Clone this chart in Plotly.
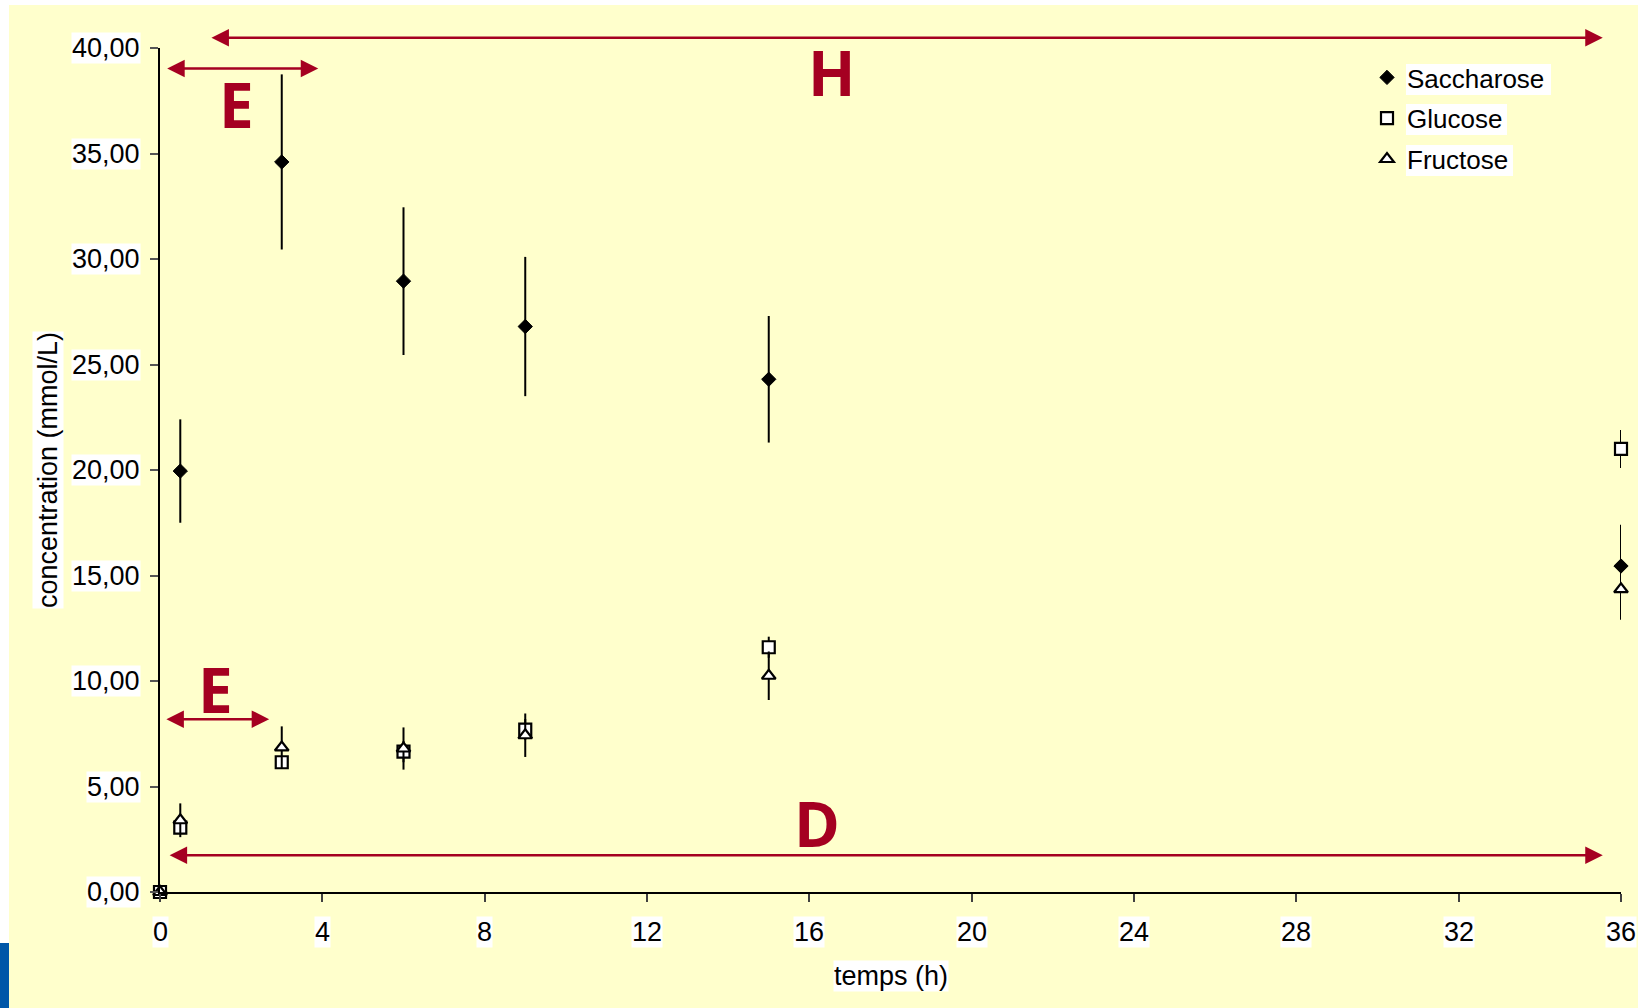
import plotly.graph_objects as go

# ---------------- data ----------------
time_sac = [0, 0.5, 3, 6, 9, 15, 36]
saccharose = [0, 19.95, 34.6, 28.95, 26.8, 24.3, 15.45]
saccharose_err = [0, 2.45, 4.15, 3.5, 3.3, 3.0, 1.95]

time_glu = [0, 0.5, 3, 6, 9, 15, 36]
glucose = [0, 3.05, 6.15, 6.65, 7.7, 11.6, 21.0]
glucose_err = [0, 0.3, 0.3, 0.5, 0.5, 0.5, 0.9]

time_fru = [0, 0.5, 3, 6, 9, 15, 36]
fructose = [0, 3.4, 6.85, 6.8, 7.43, 10.25, 14.35]
fructose_err = [0, 0.8, 1.0, 1.0, 1.03, 1.15, 1.45]

x_ticks = [0, 4, 8, 12, 16, 20, 24, 28, 32, 36]
y_ticks = [0, 5, 10, 15, 20, 25, 30, 35, 40]

# phase arrows: (label, x_start, x_end, y, label_x, label_y)
phases = [
    ("H", 1.23, 35.55, 40.48, 16.54, 38.85),
    ("E", 0.14, 3.9, 39.03, 1.89, 37.35),
    ("E", 0.12, 2.69, 8.19, 1.36, 9.63),
    ("D", 0.2, 35.55, 1.74, 16.19, 3.28),
]

RED = "#A50021"
FONT = "Liberation Sans, Arial, sans-serif"

W, H = 1638, 1008
L, R, T, B = 160, 17, 48, 116
pw, ph = W - L - R, H - T - B
Y_MAX = 40


def px_x(p):
    return (p - L) / pw


def px_y(p):
    return (H - B - p) / ph


fig = go.Figure()

err_style = dict(type="data", symmetric=True, color="black", thickness=2, width=0)

fig.add_trace(go.Scatter(
    x=time_sac, y=saccharose, mode="markers", name="Saccharose",
    marker=dict(symbol="diamond", size=11, color="black", line=dict(color="black", width=1)),
    error_y=dict(array=saccharose_err, **err_style), cliponaxis=False,
    legendgroup="a",
))
fig.add_trace(go.Scatter(
    x=time_glu, y=glucose, mode="markers", name="Glucose",
    marker=dict(symbol="square", size=12, color="white", line=dict(color="black", width=2.2)),
    error_y=dict(array=glucose_err, **err_style), cliponaxis=False,
    legendgroup="b",
))
fig.add_trace(go.Scatter(
    x=time_fru, y=fructose, mode="markers", name="Fructose",
    marker=dict(symbol="triangle-up", size=12, color="white", line=dict(color="black", width=2.2)),
    error_y=dict(array=fructose_err, **err_style), cliponaxis=False,
    legendgroup="c",
))

annotations = []
# tick labels with white boxes
for v in y_ticks:
    annotations.append(dict(
        text=f"{v:.2f}".replace(".", ","), xref="paper", x=0, xanchor="right", xshift=-19,
        yref="y", y=v, yanchor="middle", showarrow=False, bgcolor="white", borderpad=0,
        font=dict(family=FONT, size=27, color="black"),
    ))
for v in x_ticks:
    annotations.append(dict(
        text=str(v), xref="x", x=v, xanchor="center", yref="paper", y=0, yanchor="top",
        yshift=-24, showarrow=False, bgcolor="white", borderpad=0,
        font=dict(family=FONT, size=27, color="black"),
    ))
# axis titles
annotations.append(dict(
    text="temps (h)", xref="paper", x=0.5, xanchor="center", yref="paper", y=0,
    yanchor="top", yshift=-68, showarrow=False, bgcolor="white", borderpad=0,
    font=dict(family=FONT, size=27, color="black"),
))
annotations.append(dict(
    text="concentration (mmol/L)", xref="paper", x=0, xanchor="center", xshift=-112,
    yref="paper", y=0.5, yanchor="middle", textangle=-90, showarrow=False,
    bgcolor="white", borderpad=0, font=dict(family=FONT, size=27, color="black"),
))
# phase arrows and letters
for lab, xs, xe, yv, lx, ly in phases:
    arrow = dict(
        text="", xref="x", x=xe, axref="x", ax=xs,
        showarrow=True, arrowside="end+start", arrowhead=2, startarrowhead=2,
        arrowsize=1.4, startarrowsize=1.4, arrowwidth=2.5, arrowcolor=RED,
        standoff=0, startstandoff=0,
    )
    if yv > Y_MAX:
        # above the plotting area: place relative to the y axis scale via paper fraction
        arrow.update(yref="paper", y=yv / Y_MAX, ayref="pixel", ay=0)
    else:
        arrow.update(yref="y", y=yv, ayref="y", ay=yv)
    annotations.append(arrow)
    annotations.append(dict(
        text=lab, xref="x", yref="y", x=lx, y=ly, showarrow=False,
        font=dict(family="Open Sans, Noto Sans, sans-serif", size=62, color=RED, weight="bold"),
    ))

shapes = [
    # yellow page
    dict(type="rect", xref="paper", yref="paper", x0=px_x(9), x1=px_x(W), y0=px_y(H), y1=px_y(5),
         fillcolor="#FFFFCC", line=dict(width=0), layer="below"),
    # blue corner bar
    dict(type="rect", xref="paper", yref="paper", x0=px_x(0), x1=px_x(9), y0=px_y(H), y1=px_y(943),
         fillcolor="#0057A8", line=dict(width=0), layer="below"),
    # white boxes behind legend text
    dict(type="rect", xref="paper", yref="paper", x0=px_x(1406), x1=px_x(1551), y0=px_y(95), y1=px_y(64),
         fillcolor="white", line=dict(width=0), layer="below"),
    dict(type="rect", xref="paper", yref="paper", x0=px_x(1406), x1=px_x(1507), y0=px_y(135), y1=px_y(104),
         fillcolor="white", line=dict(width=0), layer="below"),
    dict(type="rect", xref="paper", yref="paper", x0=px_x(1406), x1=px_x(1513), y0=px_y(176), y1=px_y(145),
         fillcolor="white", line=dict(width=0), layer="below"),
]

fig.update_layout(
    width=W, height=H,
    margin=dict(l=L, r=R, t=T, b=B, pad=0),
    paper_bgcolor="white", plot_bgcolor="#FFFFCC",
    font=dict(family=FONT, size=26, color="black"),
    showlegend=True,
    legend=dict(
        x=px_x(1367), xanchor="left", y=px_y(54), yanchor="top",
        bgcolor="rgba(0,0,0,0)", borderwidth=0, font=dict(family=FONT, size=26, color="black"),
        tracegroupgap=4, traceorder="grouped",
    ),
    xaxis=dict(
        range=[0, 36], tickvals=x_ticks, showticklabels=False, ticks="outside", ticklen=8,
        tickcolor="#404040", tickwidth=1.5, showline=True, linecolor="black", linewidth=1.5,
        showgrid=False, zeroline=False,
    ),
    yaxis=dict(
        range=[0, Y_MAX], tickvals=y_ticks, showticklabels=False, ticks="outside", ticklen=8,
        tickcolor="#555555", tickwidth=1.5, showline=True, linecolor="black", linewidth=1.5,
        showgrid=False, zeroline=False,
    ),
    annotations=annotations,
    shapes=shapes,
)

fig.write_html(
    "out.html",
    config={"displayModeBar": False},
    post_script="document.body.style.margin='0';document.body.style.overflow='hidden';",
)
